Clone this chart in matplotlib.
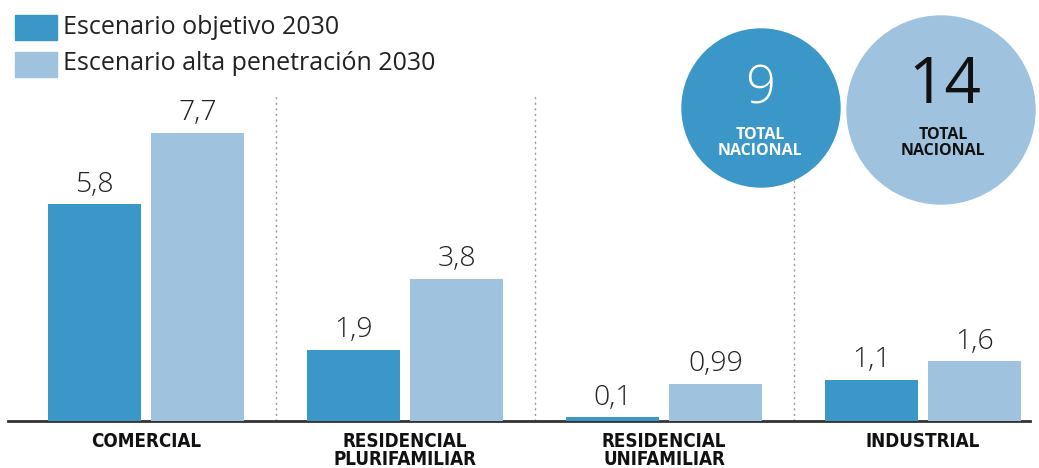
import matplotlib
matplotlib.use("Agg")
import matplotlib.pyplot as plt
from matplotlib.patches import Circle, Rectangle
import numpy as np

categories = ["COMERCIAL", "RESIDENCIAL\nPLURIFAMILIAR", "RESIDENCIAL\nUNIFAMILIAR", "INDUSTRIAL"]
objetivo = [5.8, 1.9, 0.1, 1.1]
alta = [7.7, 3.8, 0.99, 1.6]
labels_obj = ["5,8", "1,9", "0,1", "1,1"]
labels_alta = ["7,7", "3,8", "0,99", "1,6"]
series_names = ["Escenario objetivo 2030", "Escenario alta penetración 2030"]
total_obj = "9"
total_alta = "14"

c_dark = "#3a97c8"
c_light = "#9fc3df"

W, H = 1039, 468
fig = plt.figure(figsize=(W / 100, H / 100), dpi=100)
fig.patch.set_facecolor("white")

ax = fig.add_axes([8 / W, 47 / H, (1030 - 8) / W, 374 / H])
ax.set_xlim(-0.533, 3.413)
ax.set_ylim(0, 10)
x = np.arange(len(categories))
bw = 0.358
off = 0.2
ax.bar(x - off, objetivo, bw, color=c_dark, zorder=3)
ax.bar(x + off, alta, bw, color=c_light, zorder=3)
for i in range(len(categories)):
    ax.annotate(labels_obj[i], (x[i] - off, objetivo[i]), xytext=(0, 4), textcoords="offset points",
                ha="center", va="bottom", fontsize=20.5, fontweight=300, color="#222222", family="Open Sans")
    ax.annotate(labels_alta[i], (x[i] + off, alta[i]), xytext=(0, 4), textcoords="offset points",
                ha="center", va="bottom", fontsize=20.5, fontweight=300, color="#222222", family="Open Sans")
for s in [0.5, 1.5, 2.5]:
    ax.plot([s, s], [0, 8.7], color="#999999", lw=1, ls=(0, (1.5, 2.5)), zorder=1)
for sp in ["top", "right", "left"]:
    ax.spines[sp].set_visible(False)
ax.spines["bottom"].set_color("#333333")
ax.spines["bottom"].set_linewidth(2)
ax.set_yticks([])
ax.set_xticks(x)
ax.set_xticklabels(categories, fontsize=13.5, fontweight="bold", fontstretch="condensed",
                   family="DejaVu Sans", linespacing=0.95, va="top", color="#111111")
ax.tick_params(axis="x", length=0, pad=8)

# overlay for legend and circles
ov = fig.add_axes([0, 0, 1, 1], zorder=5)
ov.set_xlim(0, W)
ov.set_ylim(H, 0)
ov.axis("off")
ov.patch.set_alpha(0)

ov.add_patch(Rectangle((15, 15), 42, 25, color=c_dark))
ov.add_patch(Rectangle((15, 52), 42, 25, color=c_light))
ov.text(63, 27, series_names[0], fontsize=18, va="center", ha="left", color="#222222", family="Open Sans")
ov.text(63, 64, series_names[1], fontsize=18, va="center", ha="left", color="#222222", family="Open Sans")

ov.add_patch(Circle((761, 108), 79, color=c_dark))
ov.add_patch(Circle((941, 110), 94, color=c_light))
ov.text(760, 90, total_obj, fontsize=38, fontweight=300, ha="center", va="center", color="white", family="Open Sans")
ov.text(760, 143, "TOTAL\nNACIONAL", fontsize=11.5, ha="center", va="center", color="white",
        fontweight="bold", family="Open Sans", linespacing=1.0)
ov.text(945, 86, total_alta, fontsize=46, ha="center", va="center", color="#111111", family="Open Sans")
ov.text(943, 143, "TOTAL\nNACIONAL", fontsize=11.5, ha="center", va="center", color="#111111",
        fontweight="bold", family="Open Sans", linespacing=1.0)

fig.savefig("out.png", dpi=100)
